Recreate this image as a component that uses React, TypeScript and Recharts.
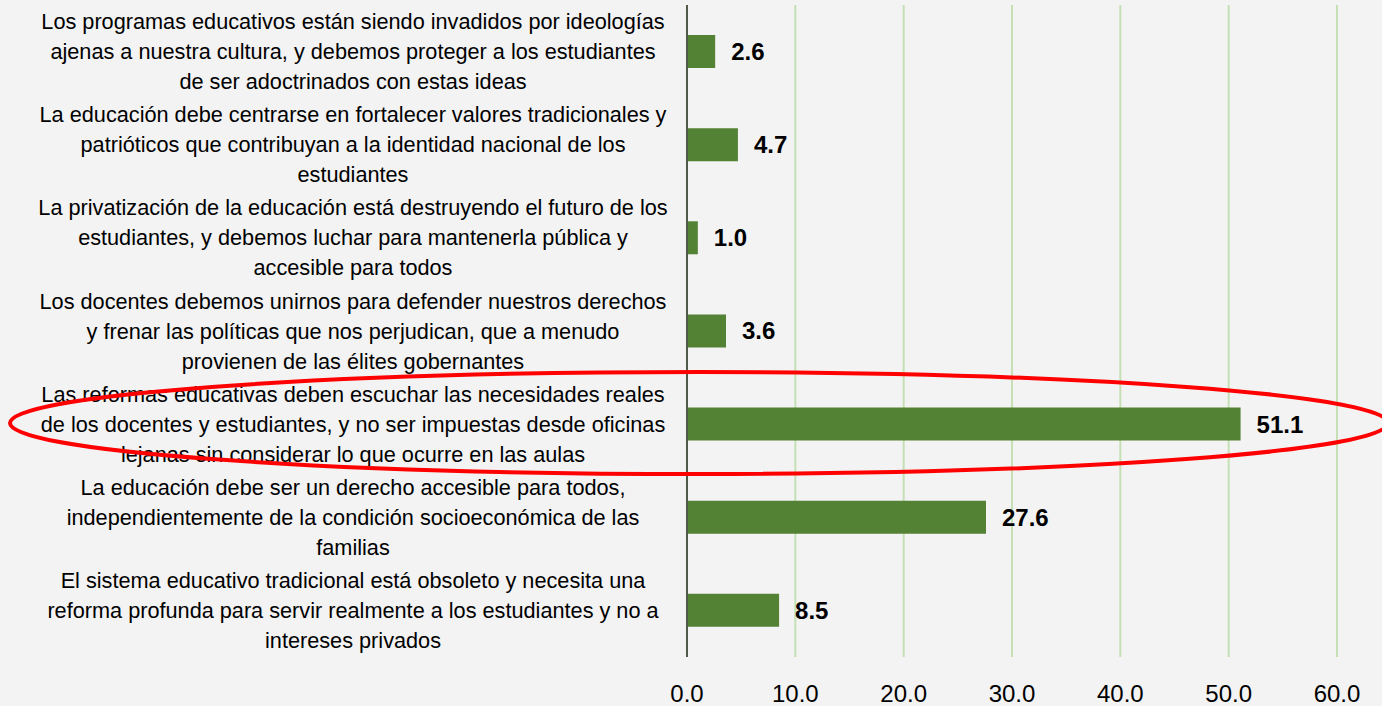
import React from "react";
import { BarChart, Bar, XAxis, YAxis, CartesianGrid, LabelList } from "recharts";

const categories: string[] = [
  "Los programas educativos están siendo invadidos por ideologías\najenas a nuestra cultura, y debemos proteger a los estudiantes\nde ser adoctrinados con estas ideas",
  "La educación debe centrarse en fortalecer valores tradicionales y\npatrióticos que contribuyan a la identidad nacional de los\nestudiantes",
  "La privatización de la educación está destruyendo el futuro de los\nestudiantes, y debemos luchar para mantenerla pública y\naccesible para todos",
  "Los docentes debemos unirnos para defender nuestros derechos\ny frenar las políticas que nos perjudican, que a menudo\nprovienen de las élites gobernantes",
  "Las reformas educativas deben escuchar las necesidades reales\nde los docentes y estudiantes, y no ser impuestas desde oficinas\nlejanas sin considerar lo que ocurre en las aulas",
  "La educación debe ser un derecho accesible para todos,\nindependientemente de la condición socioeconómica de las\nfamilias",
  "El sistema educativo tradicional está obsoleto y necesita una\nreforma profunda para servir realmente a los estudiantes y no a\nintereses privados",
];

const values: number[] = [2.6, 4.7, 1.0, 3.6, 51.1, 27.6, 8.5];

const xTicks: number[] = [0, 10, 20, 30, 40, 50, 60];

const data = categories.map((name, i) => ({ name, value: values[i] }));

const FONT = "'Liberation Sans', Arial, sans-serif";

const CategoryTick = (props: any) => {
  const { x, y, payload } = props;
  const lines: string[] = String(payload.value).split("\n");
  const lineH = 30;
  const startY = y - ((lines.length - 1) * lineH) / 2;
  return (
    <g>
      {lines.map((l, i) => (
        <text
          key={i}
          x={x - 326}
          y={startY + i * lineH}
          textAnchor="middle"
          dominantBaseline="central"
          fontSize={21.7}
          fontFamily={FONT}
          fill="#000"
        >
          {l}
        </text>
      ))}
    </g>
  );
};

const ValueTick = (props: any) => {
  const { x, y, payload } = props;
  return (
    <text
      x={x}
      y={y + 37}
      textAnchor="middle"
      fontSize={24}
      fontFamily={FONT}
      fill="#000"
    >
      {Number(payload.value).toFixed(1)}
    </text>
  );
};

const Ellipse = () => (
  <svg
    width={1382}
    height={706}
    style={{ position: "absolute", left: 0, top: 0, pointerEvents: "none" }}
  >
    <ellipse cx={699} cy={423} rx={689} ry={51} fill="none" stroke="#ff0000" strokeWidth={4} />
  </svg>
);

export default function App() {
  return (
    <div
      style={{
        position: "absolute",
        left: 0,
        top: 0,
        width: 1382,
        height: 706,
        background: "#f3f3f3",
        overflow: "hidden",
      }}
    >
      <BarChart
        width={1382}
        height={706}
        data={data}
        layout="vertical"
        margin={{ top: 5, right: 45, bottom: 0, left: 0 }}
        barSize={33}
      >
        <CartesianGrid horizontal={false} vertical={true} stroke="#c5e0b4" strokeWidth={2} />
        <XAxis
          type="number"
          domain={[0, 60]}
          ticks={xTicks}
          axisLine={false}
          tickLine={false}
          height={49}
          tick={<ValueTick />}
          interval={0}
        />
        <YAxis
          type="category"
          dataKey="name"
          width={687}
          axisLine={{ stroke: "#4f5a48", strokeWidth: 2 }}
          tickLine={false}
          tick={<CategoryTick />}
          interval={0}
        />
        <Bar dataKey="value" fill="#548235" isAnimationActive={false}>
          <LabelList
            dataKey="value"
            position="right"
            offset={16}
            formatter={(v: any) => Number(v).toFixed(1)}
            fill="#000"
            fontWeight="bold"
            fontSize={24}
            fontFamily={FONT}
          />
        </Bar>
      </BarChart>
      <Ellipse />
    </div>
  );
}
